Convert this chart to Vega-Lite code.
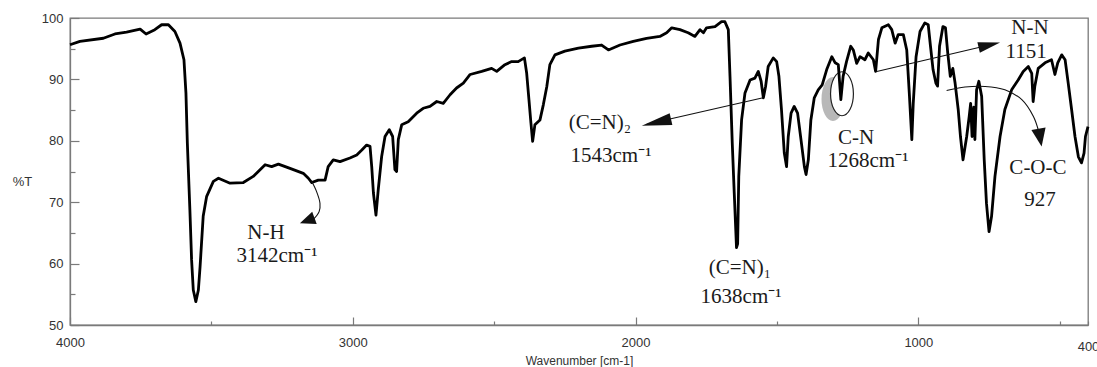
{
  "$schema": "https://vega.github.io/schema/vega-lite/v6.json",
  "width": 1018,
  "height": 307,
  "autosize": {"type": "none"},
  "padding": {"left": 70, "top": 18, "right": 9, "bottom": 42},
  "background": "white",
  "config": {
    "view": {"stroke": "#7a7a7a", "strokeWidth": 1.3},
    "axis": {"grid": false, "domainColor": "#7a7a7a", "domainWidth": 1.3, "tickColor": "#7a7a7a", "tickWidth": 1.2,
      "labelFont": "Liberation Sans", "labelFontSize": 13, "labelColor": "#333333",
      "titleFont": "Liberation Sans", "titleFontSize": 12, "titleFontWeight": "normal", "titleColor": "#333333"}
  },
  "datasets": {
    "spectrum": [
      {"wn":4000,"T":95.65},{"wn":3965,"T":96.2},{"wn":3882,"T":96.7},{"wn":3841,"T":97.4},{"wn":3800,"T":97.7},{"wn":3752,"T":98.2},{"wn":3731,"T":97.4},{"wn":3700,"T":98.1},{"wn":3676,"T":98.9},{"wn":3652,"T":98.9},{"wn":3629,"T":97.8},{"wn":3611,"T":95.9},{"wn":3597,"T":93.2},{"wn":3590,"T":87.8},{"wn":3585,"T":79.6},{"wn":3576,"T":68.7},{"wn":3570,"T":60.6},{"wn":3564,"T":55.7},{"wn":3555,"T":53.8},{"wn":3546,"T":55.7},{"wn":3540,"T":59.5},{"wn":3529,"T":67.7},{"wn":3517,"T":70.9},{"wn":3493,"T":73.4},{"wn":3475,"T":73.9},{"wn":3434,"T":73.1},{"wn":3387,"T":73.2},{"wn":3352,"T":74.2},{"wn":3310,"T":76.1},{"wn":3287,"T":75.8},{"wn":3263,"T":76.2},{"wn":3222,"T":75.5},{"wn":3175,"T":74.7},{"wn":3157,"T":73.9},{"wn":3145,"T":73.2},{"wn":3122,"T":73.6},{"wn":3098,"T":73.6},{"wn":3087,"T":75.8},{"wn":3069,"T":76.9},{"wn":3045,"T":76.6},{"wn":3010,"T":77.2},{"wn":2986,"T":77.7},{"wn":2968,"T":78.5},{"wn":2951,"T":79.3},{"wn":2939,"T":79.1},{"wn":2933,"T":75.8},{"wn":2927,"T":71.5},{"wn":2918,"T":67.9},{"wn":2910,"T":72.0},{"wn":2898,"T":77.4},{"wn":2886,"T":80.7},{"wn":2871,"T":81.8},{"wn":2859,"T":80.7},{"wn":2851,"T":75.3},{"wn":2845,"T":75.0},{"wn":2839,"T":80.2},{"wn":2827,"T":82.6},{"wn":2804,"T":83.1},{"wn":2774,"T":84.5},{"wn":2751,"T":85.3},{"wn":2727,"T":85.6},{"wn":2703,"T":86.4},{"wn":2680,"T":86.1},{"wn":2656,"T":87.5},{"wn":2633,"T":88.6},{"wn":2609,"T":89.4},{"wn":2585,"T":90.8},{"wn":2544,"T":91.3},{"wn":2509,"T":91.8},{"wn":2491,"T":91.3},{"wn":2462,"T":92.4},{"wn":2438,"T":92.9},{"wn":2415,"T":92.9},{"wn":2393,"T":93.5},{"wn":2385,"T":91.0},{"wn":2377,"T":86.7},{"wn":2370,"T":82.9},{"wn":2364,"T":79.9},{"wn":2356,"T":82.6},{"wn":2338,"T":83.4},{"wn":2326,"T":85.9},{"wn":2314,"T":88.8},{"wn":2303,"T":92.4},{"wn":2285,"T":94.0},{"wn":2250,"T":94.6},{"wn":2202,"T":95.1},{"wn":2155,"T":95.4},{"wn":2120,"T":95.6},{"wn":2096,"T":94.8},{"wn":2055,"T":95.6},{"wn":2008,"T":96.2},{"wn":1961,"T":96.7},{"wn":1914,"T":97.0},{"wn":1890,"T":97.6},{"wn":1872,"T":98.4},{"wn":1843,"T":98.1},{"wn":1814,"T":97.6},{"wn":1790,"T":97.0},{"wn":1772,"T":98.1},{"wn":1760,"T":97.6},{"wn":1749,"T":98.4},{"wn":1719,"T":98.6},{"wn":1696,"T":99.4},{"wn":1684,"T":99.4},{"wn":1672,"T":98.1},{"wn":1666,"T":90.5},{"wn":1658,"T":79.6},{"wn":1651,"T":71.5},{"wn":1643,"T":62.6},{"wn":1639,"T":63.2},{"wn":1635,"T":74.2},{"wn":1625,"T":83.4},{"wn":1613,"T":87.8},{"wn":1595,"T":89.9},{"wn":1578,"T":90.2},{"wn":1566,"T":91.3},{"wn":1556,"T":89.7},{"wn":1548,"T":87.0},{"wn":1540,"T":88.9},{"wn":1531,"T":92.1},{"wn":1513,"T":93.5},{"wn":1501,"T":92.9},{"wn":1493,"T":90.5},{"wn":1484,"T":85.1},{"wn":1474,"T":78.0},{"wn":1466,"T":75.8},{"wn":1460,"T":80.7},{"wn":1450,"T":84.5},{"wn":1439,"T":85.6},{"wn":1427,"T":84.5},{"wn":1415,"T":80.2},{"wn":1403,"T":75.8},{"wn":1397,"T":74.5},{"wn":1389,"T":76.9},{"wn":1380,"T":83.4},{"wn":1368,"T":87.0},{"wn":1354,"T":88.3},{"wn":1340,"T":89.1},{"wn":1324,"T":91.6},{"wn":1306,"T":93.7},{"wn":1294,"T":92.7},{"wn":1283,"T":92.4},{"wn":1274,"T":86.7},{"wn":1266,"T":90.5},{"wn":1254,"T":92.9},{"wn":1239,"T":95.4},{"wn":1230,"T":94.8},{"wn":1218,"T":92.6},{"wn":1206,"T":93.7},{"wn":1189,"T":93.2},{"wn":1177,"T":94.3},{"wn":1159,"T":93.2},{"wn":1151,"T":91.3},{"wn":1141,"T":96.5},{"wn":1129,"T":98.4},{"wn":1106,"T":98.9},{"wn":1094,"T":98.1},{"wn":1082,"T":95.9},{"wn":1071,"T":97.3},{"wn":1053,"T":97.3},{"wn":1041,"T":94.8},{"wn":1032,"T":87.8},{"wn":1023,"T":80.2},{"wn":1018,"T":86.1},{"wn":1008,"T":93.7},{"wn":994,"T":97.8},{"wn":977,"T":99.2},{"wn":965,"T":98.9},{"wn":957,"T":95.4},{"wn":948,"T":91.6},{"wn":938,"T":89.4},{"wn":932,"T":88.9},{"wn":925,"T":95.4},{"wn":913,"T":98.6},{"wn":904,"T":98.4},{"wn":896,"T":94.3},{"wn":887,"T":90.5},{"wn":878,"T":91.8},{"wn":870,"T":89.4},{"wn":859,"T":85.1},{"wn":851,"T":80.7},{"wn":842,"T":76.9},{"wn":829,"T":80.7},{"wn":820,"T":84.0},{"wn":815,"T":86.1},{"wn":810,"T":80.7},{"wn":804,"T":85.5},{"wn":800,"T":80.2},{"wn":794,"T":88.3},{"wn":786,"T":89.7},{"wn":776,"T":87.2},{"wn":767,"T":76.9},{"wn":759,"T":69.8},{"wn":750,"T":65.2},{"wn":741,"T":67.7},{"wn":729,"T":74.2},{"wn":711,"T":80.7},{"wn":694,"T":85.1},{"wn":670,"T":88.3},{"wn":647,"T":89.9},{"wn":629,"T":91.3},{"wn":611,"T":92.1},{"wn":599,"T":91.0},{"wn":594,"T":86.4},{"wn":588,"T":88.9},{"wn":576,"T":91.8},{"wn":552,"T":92.7},{"wn":529,"T":93.2},{"wn":517,"T":90.8},{"wn":507,"T":92.7},{"wn":493,"T":94.0},{"wn":481,"T":93.2},{"wn":470,"T":89.4},{"wn":458,"T":85.1},{"wn":446,"T":80.7},{"wn":434,"T":77.4},{"wn":423,"T":76.4},{"wn":414,"T":78.0},{"wn":409,"T":80.7},{"wn":400,"T":82.3}
    ],
    "straight": [
      {"name":"CN2","wn":1549,"T":87.0,"wn2":1960,"T2":82.7},
      {"name":"NN","wn":1147,"T":91.3,"wn2":730,"T2":95.8}
    ],
    "curves": [
      {"name":"NH","i":0,"wn":3145,"T":73.36},{"name":"NH","i":1,"wn":3128,"T":71.73},{"name":"NH","i":2,"wn":3116,"T":69.84},{"name":"NH","i":3,"wn":3119,"T":68.47},{"name":"NH","i":4,"wn":3141,"T":67.12},
      {"name":"COC","i":0,"wn":900,"T":88.2},{"name":"COC","i":1,"wn":835,"T":88.75},{"name":"COC","i":2,"wn":764,"T":88.85},{"name":"COC","i":3,"wn":694,"T":88.3},{"name":"COC","i":4,"wn":634,"T":86.7},{"name":"COC","i":5,"wn":593,"T":83.96},{"name":"COC","i":6,"wn":576,"T":81.8}
    ],
    "heads": [
      {"name":"CN2","wn":1978,"T":82.44},
      {"name":"NN","wn":711,"T":96.0},
      {"name":"COC","wn":564,"T":79.07},
      {"name":"NH","wn":3187,"T":66.58}
    ],
    "rings": [
      {"name":"shadow","wn":1302,"T":86.8},
      {"name":"ring","wn":1270,"T":87.66}
    ],
    "labels": [
      {"text":"N-H","wn":3307,"T":65.0},
      {"text":"3142cm⁻¹","wn":3268,"T":61.25},
      {"text":"(C=N)₂","wn":2126,"T":82.9},
      {"text":"1543cm⁻¹","wn":2087,"T":77.55},
      {"text":"(C=N)₁","wn":1631,"T":59.3},
      {"text":"1638cm⁻¹","wn":1627,"T":54.6},
      {"text":"C-N","wn":1220,"T":80.5},
      {"text":"1268cm⁻¹","wn":1178,"T":76.7},
      {"text":"N-N","wn":605,"T":98.4},
      {"text":"1151","wn":619,"T":94.4},
      {"text":"C-O-C","wn":577,"T":75.6},
      {"text":"927","wn":570,"T":70.4}
    ]
  },
  "encoding": {
    "x": {"field": "wn", "type": "quantitative",
      "scale": {"domain": [400, 4000], "reverse": true, "nice": false, "zero": false},
      "axis": {"values": [4000,3500,3000,2500,2000,1500,1000,500,400], "format": "d",
        "labelExpr": "datum.value % 1000 === 0 || datum.value === 400 ? datum.label : ''",
        "tickSize": {"condition": {"test": "datum.value % 1000 === 0", "value": -8}, "value": -4},
        "labelPadding": 19, "labelFlush": false, "labelOverlap": false,
        "title": "Wavenumber [cm-1]", "titlePadding": 2}},
    "y": {"field": "T", "type": "quantitative",
      "scale": {"domain": [50, 100], "nice": false, "zero": false},
      "axis": {"values": [50,55,60,65,70,75,80,85,90,95,100],
        "labelExpr": "datum.value % 10 === 0 ? datum.label : ''",
        "tickSize": {"condition": {"test": "datum.value % 10 === 0", "value": -9}, "value": -5},
        "labelPadding": 16, "labelFlush": false, "labelOverlap": false,
        "title": "%T", "titleAngle": 0, "titleAlign": "center", "titleBaseline": "middle", "titleX": -48, "titleY": 163, "titleFontSize": 13}}
  },
  "layer": [
    {"data": {"name": "rings"}, "transform": [{"filter": "datum.name === 'shadow'"}],
     "mark": {"type": "point", "shape": "M -0.52 0 A 0.52 1 0 1 0 0.52 0 A 0.52 1 0 1 0 -0.52 0 Z", "size": 1936, "filled": true, "fill": "#b8b8b8", "strokeWidth": 0, "opacity": 1}},
    {"data": {"name": "rings"}, "transform": [{"filter": "datum.name === 'ring'"}],
     "mark": {"type": "point", "shape": "M -0.52 0 A 0.52 1 0 1 0 0.52 0 A 0.52 1 0 1 0 -0.52 0 Z", "size": 1936, "filled": false, "fill": "white", "fillOpacity": 1, "stroke": "#222222", "strokeWidth": 1.2, "opacity": 1}},
    {"data": {"name": "spectrum"},
     "mark": {"type": "line", "color": "black", "strokeWidth": 2.8, "strokeJoin": "round"}},
    {"data": {"name": "straight"},
     "mark": {"type": "rule", "color": "#111111", "strokeWidth": 1.1},
     "encoding": {"x2": {"field": "wn2"}, "y2": {"field": "T2"}}},
    {"data": {"name": "curves"},
     "mark": {"type": "line", "color": "#111111", "strokeWidth": 1.1, "interpolate": "catmull-rom"},
     "encoding": {"detail": {"field": "name"}, "order": {"field": "i", "type": "quantitative"}}},
    {"data": {"name": "heads"}, "transform": [{"filter": "datum.name === 'CN2'"}],
     "mark": {"type": "point", "shape": "M 0 0 L -2 -0.4 L -2 0.4 Z", "size": 900, "angle": 167, "filled": true, "color": "#111111", "opacity": 1}},
    {"data": {"name": "heads"}, "transform": [{"filter": "datum.name === 'NN'"}],
     "mark": {"type": "point", "shape": "M 0 0 L -2 -0.5 L -2 0.5 Z", "size": 484, "angle": 347, "filled": true, "color": "#111111", "opacity": 1}},
    {"data": {"name": "heads"}, "transform": [{"filter": "datum.name === 'COC'"}],
     "mark": {"type": "point", "shape": "M 0 0 L -2 -0.8 L -2 0.8 Z", "size": 324, "angle": 80, "filled": true, "color": "#111111", "opacity": 1}},
    {"data": {"name": "heads"}, "transform": [{"filter": "datum.name === 'NH'"}],
     "mark": {"type": "point", "shape": "M 0 0 L -2 -0.85 L -2 0.85 Z", "size": 240, "angle": 160, "filled": true, "color": "#111111", "opacity": 1}},
    {"data": {"name": "labels"},
     "mark": {"type": "text", "font": "Liberation Serif", "fontSize": 21, "color": "#1a1a1a", "align": "center", "baseline": "middle"},
     "encoding": {"text": {"field": "text"}}}
  ]
}
